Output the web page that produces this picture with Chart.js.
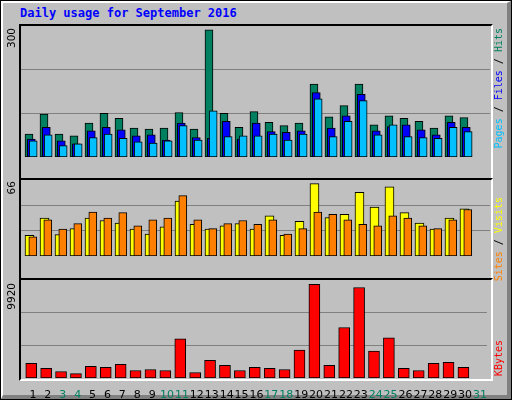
<!DOCTYPE html>
<html>
<head>
<meta charset="utf-8">
<script src="https://cdn.jsdelivr.net/npm/chart.js@4/dist/chart.umd.min.js"></script>
<style>
  html, body { margin: 0; padding: 0; }
  body { width: 512px; height: 400px; position: relative; overflow: hidden; background: #000; }
  .frame { position: absolute; left: 0; top: 0; width: 512px; height: 400px; box-sizing: border-box;
           border: 1px solid #000; }
  .inner { position: absolute; left: 0; top: 0; right: 0; bottom: 0; background: #c0c0c0;
           border-left: 2px solid #fff; border-top: 2px solid #fff;
           border-right: 4px solid #808080; border-bottom: 4px solid #808080; }
  .title { position: absolute; left: 20px; top: 6px; font: bold 12px "DejaVu Sans Mono", monospace; color: #0000ff; }
  .panel { position: absolute; left: 19px; width: 474px; box-sizing: border-box; pointer-events: none;
           border-left: 2px solid #000; border-top: 2px solid #000;
           border-right: 2px solid #fff; border-bottom: 2px solid #fff; }
  canvas { position: absolute; }
  .vt { position: absolute; writing-mode: vertical-rl; transform: rotate(180deg); white-space: nowrap; }
  .num { left: 5px; font: 10.5px "DejaVu Sans", sans-serif; color: #000; }
  .leg { left: 493px; font: 10px "DejaVu Sans Mono", monospace; color: #000; }
</style>
</head>
<body>
<div class="frame"><div class="inner"></div></div>
<div class="title">Daily usage for September 2016</div>

<canvas id="c1" style="left:21px;top:26px;width:469px;height:152px"></canvas>
<canvas id="c2" style="left:21px;top:180px;width:469px;height:97px"></canvas>
<canvas id="c3" style="left:21px;top:280px;width:469px;height:119px"></canvas>

<div class="panel" style="top:24px;height:156px"></div>
<div class="panel" style="top:178px;height:102px"></div>
<div class="panel" style="top:278px;height:103px"></div>

<div class="vt num" style="top:28px">300</div>
<div class="vt num" style="top:181px">66</div>
<div class="vt num" style="top:283px">9920</div>

<div class="vt leg" style="top:28px"><span style="color:#00c0ff">Pages</span> / <span style="color:#0000ff">Files</span> / <span style="color:#008060">Hits</span></div>
<div class="vt leg" style="top:197px"><span style="color:#ff8000">Sites</span> / <span style="color:#ffff00">Visits</span></div>
<div class="vt leg" style="top:340px"><span style="color:#ff0000">KBytes</span></div>

<script>
var days = [1,2,3,4,5,6,7,8,9,10,11,12,13,14,15,16,17,18,19,20,21,22,23,24,25,26,27,28,29,30,31];
var weekend = [3,4,10,11,17,18,24,25,31];

var hits   = [54,101,54,50,80,103,91,68,66,68,105,66,300,103,70,107,82,74,80,172,95,121,172,76,97,91,84,68,97,93,0];
var files  = [42,70,38,31,62,70,64,50,52,40,80,46,44,84,42,80,60,58,62,152,68,97,148,62,72,76,64,52,82,70,0];
var pages  = [38,52,27,31,46,54,44,36,33,38,74,40,109,48,50,50,54,40,54,137,48,84,133,52,76,48,46,44,70,60,0];
var visits = [18.8,34.5,19.5,25,34.5,32.4,30,24.5,20,26.7,50,28.8,24.5,27.4,29.5,24.5,36.7,18.8,31.7,66,35,38,58,44.5,63,39.5,30,24.5,34.5,43,0];
var sites  = [17.4,33,24.5,29.5,40,34.5,39.5,27.4,33,34.5,55,33,25,29.5,32.4,28.8,33,20,25,40,38,33,28.8,27.4,36.7,34.5,27.4,25,33,42.4,0];
var kbytes = [1557,1014,688,471,1231,1122,1448,796,905,796,4163,579,1883,1340,796,1122,1014,905,2969,9920,1340,5358,9594,2860,4272,1014,796,1557,1665,1122,0];

var X_MIN = 0.2, X_MAX = 31.47;

function pts(values, off) {
  return values.map(function (v, i) { return { x: days[i] + off, y: v }; });
}
// higher order is drawn first (further back)
function bar(values, off, color, w, order) {
  return { data: pts(values, off), backgroundColor: color, borderColor: '#000',
           borderWidth: 1, borderSkipped: false, barThickness: w, grouped: false, order: order };
}

function makeChart(id, datasets, yMax, showX) {
  return new Chart(document.getElementById(id), {
    type: 'bar',
    data: { datasets: datasets },
    options: {
      responsive: false, animation: false, maintainAspectRatio: false,
      layout: { padding: 0 },
      plugins: { legend: { display: false }, tooltip: { enabled: false } },
      scales: {
        x: {
          type: 'linear', min: X_MIN, max: X_MAX, offset: false,
          display: showX,
          border: { display: false },
          grid: { display: false },
          afterBuildTicks: function (s) { s.ticks = days.map(function (d) { return { value: d }; }); },
          afterFit: function (s) { s.height = 21; },
          ticks: {
            autoSkip: false, maxRotation: 0, padding: 3,
            font: { family: 'DejaVu Sans', size: 11 },
            color: function (c) { return weekend.indexOf(c.tick.value) >= 0 ? '#008060' : '#000'; },
            callback: function (v) { return String(v); }
          }
        },
        y: {
          display: true, min: 0, max: yMax,
          border: { display: false },
          afterFit: function (s) { s.width = 0; },
          afterBuildTicks: function (s) { s.ticks = [{ value: yMax / 3 }, { value: yMax * 2 / 3 }]; },
          ticks: { display: false },
          grid: { color: '#808080', lineWidth: 1, drawTicks: false }
        }
      }
    }
  });
}

function fixSize(id) {
  var c = document.getElementById(id);
  c.width = parseInt(c.style.width); c.height = parseInt(c.style.height);
}
['c1', 'c2', 'c3'].forEach(fixSize);

makeChart('c1', [
  bar(hits, -0.267, '#008060', 8, 3),
  bar(files, -0.113, '#0000ff', 8, 2),
  bar(pages, 0.013, '#00c0ff', 8, 1)
], 309, false);

makeChart('c2', [
  bar(visits, -0.233, '#ffff00', 9, 2),
  bar(sites, -0.013, '#ff8000', 8, 1)
], 69.3, false);

makeChart('c3', [
  bar(kbytes, -0.113, '#ff0000', 11, 1)
], 10390, true);
</script>
</body>
</html>
